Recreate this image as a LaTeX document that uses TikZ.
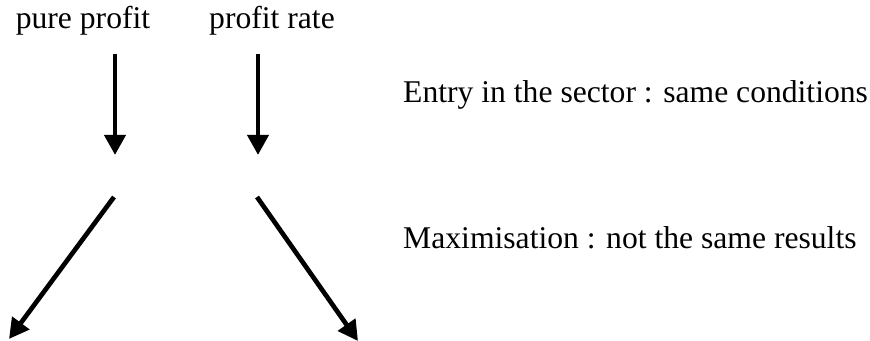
\documentclass[tikz,border=0pt]{standalone}
\usepackage{fontspec}
\setmainfont{Liberation Serif}
\usetikzlibrary{arrows.meta}

\begin{document}
\begin{tikzpicture}[x=0.03cm, y=-0.03cm,
  label/.style={inner sep=0pt, anchor=base, font=\fontsize{27}{32}\selectfont},
  remark/.style={inner sep=0pt, anchor=base west, font=\fontsize{27}{32}\selectfont},
  arrow/.style={-{Triangle[length=0.6cm, width=0.62cm]}, line width=4pt},
]
\useasboundingbox (0,0) rectangle (870,341);
\node[label]  (pure)  at (83, 29)   {pure profit};
\node[label]  (rate)  at (272, 29)  {profit rate};
\node[remark] (entry) at (403, 103) {Entry in the sector : same conditions};
\node[remark] (maxim) at (403, 248) {Maximisation : not the same results};
\coordinate (pureTop)  at (115, 54);
\coordinate (pureEnd)  at (115, 155);
\coordinate (rateTop)  at (258, 54);
\coordinate (rateEnd)  at (258, 155);
\coordinate (pureDiag) at (114, 197);
\coordinate (pureLow)  at (9, 339);
\coordinate (rateDiag) at (257, 197);
\coordinate (rateLow)  at (358, 341);
\draw[arrow] (pureTop)  -- (pureEnd);
\draw[arrow] (rateTop)  -- (rateEnd);
\draw[arrow] (pureDiag) -- (pureLow);
\draw[arrow] (rateDiag) -- (rateLow);
\end{tikzpicture}
\end{document}
